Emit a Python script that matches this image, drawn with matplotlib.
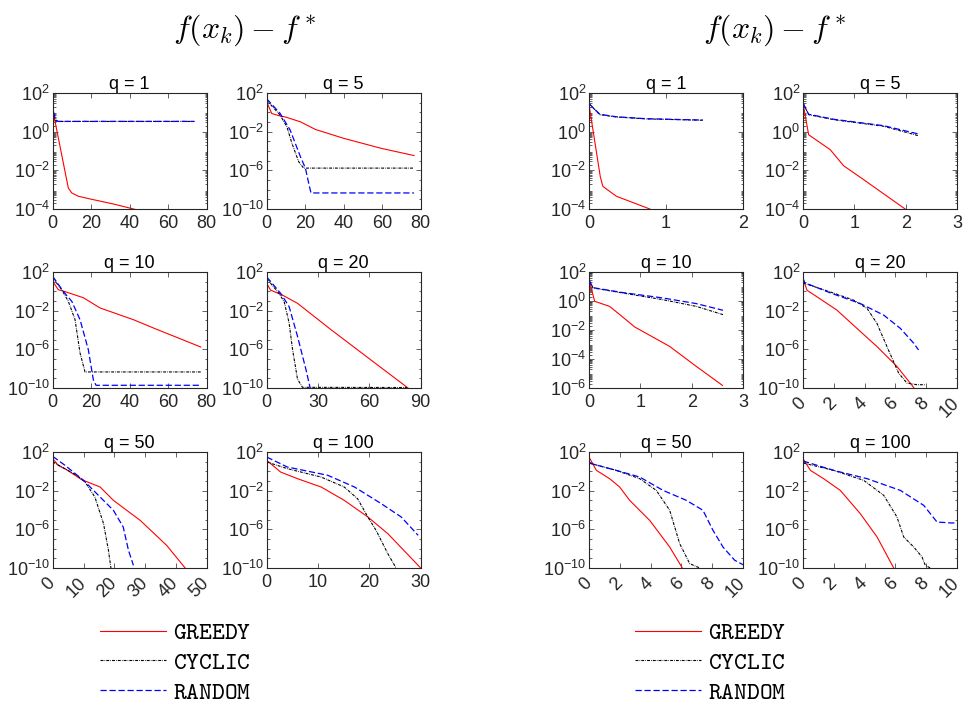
import matplotlib.pyplot as plt
import numpy as np
from matplotlib.lines import Line2D
from matplotlib.ticker import FixedLocator, FuncFormatter, NullFormatter

plt.rcParams["font.family"] = ["Liberation Sans", "DejaVu Sans"]
plt.rcParams["mathtext.fontset"] = "cm"
plt.rcParams["font.size"] = 10

# (x, log10 of f(x_k) - f*) read per curve; left block is iterations, right block is time
# --- left block ---
greedy_l1 = [(0, 1.14), (8.1, -2.91), (9.9, -3.17), (13.3, -3.34), (19.4, -3.48), (31.5, -3.74), (44, -4.05)]
cyclic_l1 = [(0, 0.85), (1.5, 0.55), (3, 0.53), (73.6, 0.53)]
random_l1 = [(0, 1.5), (0.5, 1.0), (1.5, 0.6), (3, 0.53), (73.6, 0.53)]

greedy_l5 = [(0, 1.08), (2.6, -0.12), (6.1, -0.33), (10, -0.5), (17.5, -0.98), (25.3, -1.77),
             (40, -2.69), (59.4, -3.72), (76.5, -4.47)]
cyclic_l5 = [(0, 1.25), (7, -0.3), (10.5, -1.5), (13.1, -3.2), (16.6, -5.1), (19.2, -5.77), (76.5, -5.77)]
random_l5 = [(0, 1.4), (7, -0.12), (12.2, -1.84), (17.5, -4.58), (20.1, -5.77), (22, -7.5), (23, -8.34),
             (76.5, -8.34)]

greedy_l10 = [(0, 1.03), (2.9, 0.17), (6.4, -0.03), (15.9, -0.66), (24.6, -1.72), (41.9, -2.93),
              (52.3, -3.79), (76.9, -5.76)]
cyclic_l10 = [(0, 1.38), (4.7, 0.17), (8.1, -1.03), (11.6, -2.93), (14.2, -6.38), (16.8, -8.34), (76.9, -8.34)]
random_l10 = [(0, 1.55), (5.5, 0.0), (9.9, -1.03), (14.2, -2.93), (18.5, -6.03), (21.1, -9.14), (22.5, -9.72),
              (76.9, -9.72)]

greedy_l20 = [(0, 0.81), (2.3, 0.12), (9.2, -0.39), (18, -1.24), (37.6, -3.97), (63, -7.38), (82.6, -10)]
cyclic_l20 = [(0, 1.32), (7.2, -0.22), (10.2, -1.07), (13.1, -3.28), (15.1, -6.01), (18, -9.08), (20.9, -9.93),
              (82, -9.95)]
random_l20 = [(0, 1.49), (8.2, -0.22), (13.1, -1.58), (18, -4.65), (22.9, -8.06), (25.4, -10)]

greedy_l50 = [(0, 1.31), (1.8, 0.62), (4.5, 0.17), (9.4, -0.86), (15.4, -1.62), (19.7, -3), (28.4, -5.07),
              (37, -7.66), (43, -10)]
cyclic_l50 = [(0, 0.97), (7.8, -0.41), (10.5, -1.1), (13.7, -2.66), (16.5, -5.41), (18.1, -8.17), (18.9, -10)]
random_l50 = [(0, 1.55), (4, 0.62), (10, -0.93), (14.3, -2.31), (19.7, -4.03), (22.9, -5.76), (24.6, -8.17),
              (26.2, -9.72)]

greedy_l100 = [(0, 1.14), (2.7, -0.07), (6, -0.76), (10.6, -1.62), (15.1, -3), (19.7, -4.72), (23.6, -6.45),
               (30, -10)]
cyclic_l100 = [(0, 0.97), (4, 0.28), (10.6, -0.59), (15.1, -1.62), (17.7, -2.83), (19.7, -4.72), (21.3, -6.1),
               (23.6, -8.52), (25.2, -10)]
random_l100 = [(0, 1.48), (4, 0.45), (11.9, -0.41), (17.1, -1.62), (22.3, -3.34), (26.2, -4.72), (29.5, -6.62)]

# --- right block ---
greedy_r1 = [(0, 1.4), (0.147, -2.34), (0.18, -2.83), (0.355, -3.34), (0.79, -4)]
cyclic_r1 = [(0, 1.45), (0.14, 0.88), (0.355, 0.76), (0.745, 0.66), (1.48, 0.59)]
random_r1 = [(0, 1.45), (0.14, 0.9), (0.355, 0.77), (0.745, 0.67), (1.48, 0.6)]

greedy_r5 = [(0, 1.48), (0.11, -0.16), (0.53, -0.93), (0.79, -1.76), (1.18, -2.48), (1.99, -4)]
cyclic_r5 = [(0, 1.48), (0.11, 0.88), (0.6, 0.62), (1.57, 0.28), (2.25, -0.21)]
random_r5 = [(0, 1.48), (0.11, 0.9), (0.6, 0.64), (1.57, 0.31), (2.25, -0.12)]

greedy_r10 = [(0, 1.47), (0.11, -0.02), (0.4, -0.37), (0.6, -0.94), (0.89, -1.79), (1.57, -3.13),
              (2.09, -4.51), (2.6, -5.82)]
cyclic_r10 = [(0, 1.43), (0.08, 0.9), (0.66, 0.55), (1.44, 0.09), (2.09, -0.37), (2.61, -0.94)]
random_r10 = [(0, 1.43), (0.08, 0.92), (0.66, 0.58), (1.44, 0.21), (2.09, -0.18), (2.61, -0.64)]

greedy_r20 = [(0, 1.31), (0.26, 0.11), (0.91, -0.57), (2.2, -1.94), (3.5, -3.83), (4.8, -5.71), (6.1, -7.77),
              (7.08, -9.73), (7.2, -10)]
cyclic_r20 = [(0, 0.87), (1.77, -0.06), (3.29, -0.91), (4.16, -1.77), (4.8, -3.31), (5.45, -5.71),
              (6.21, -8.46), (6.75, -9.49), (7.4, -9.66), (7.94, -9.66)]
random_r20 = [(0, 1.4), (0.1, 0.9), (1.77, -0.16), (3.72, -1.26), (5.24, -2.46), (6.32, -3.83), (7.19, -5.37),
              (7.5, -6.06)]

greedy_r50 = [(0, 1.48), (0.48, 0.1), (1.34, -0.76), (1.99, -1.62), (2.64, -3), (3.94, -5.07), (5.24, -7.83),
              (6.06, -10)]
cyclic_r50 = [(0, 0.86), (1.77, 0.1), (3.29, -0.76), (4.37, -1.97), (5.24, -4.03), (5.89, -7.48),
              (6.54, -9.55), (7.19, -10)]
random_r50 = [(0, 0.86), (1.77, 0.1), (3.29, -0.59), (4.81, -1.97), (6.32, -3), (7.4, -4.03), (8.05, -6.1),
              (8.7, -7.83), (9.46, -9.2), (10, -9.66)]

greedy_r100 = [(0, 1.31), (0.48, 0.1), (1.34, -0.76), (2.42, -1.97), (3.72, -4.38), (4.81, -6.79), (5.89, -10)]
cyclic_r100 = [(0, 0.86), (1.99, 0.1), (3.94, -0.93), (5.24, -2.48), (6.1, -4.72), (6.54, -6.79),
               (7.19, -7.83), (7.73, -8.86), (7.94, -9.72), (8.27, -10)]
random_r100 = [(0, 1.07), (1.99, 0.1), (4.16, -0.76), (6.32, -1.97), (7.84, -3.52), (8.7, -5.24),
               (9.57, -5.34), (10, -5.34)]

q_values = [1, 5, 10, 20, 50, 100]
method_names = ["GREEDY", "CYCLIC", "RANDOM"]

# per panel: curves, x limit, x ticks, lowest decade, y ticks (decades), rotated x labels
left_panels = [
    ((greedy_l1, cyclic_l1, random_l1), 80, [0, 20, 40, 60, 80], -4, [2, 0, -2, -4], False),
    ((greedy_l5, cyclic_l5, random_l5), 80, [0, 20, 40, 60, 80], -10, [2, -2, -6, -10], False),
    ((greedy_l10, cyclic_l10, random_l10), 80, [0, 20, 40, 60, 80], -10, [2, -2, -6, -10], False),
    ((greedy_l20, cyclic_l20, random_l20), 90, [0, 30, 60, 90], -10, [2, -2, -6, -10], False),
    ((greedy_l50, cyclic_l50, random_l50), 50, [0, 10, 20, 30, 40, 50], -10, [2, -2, -6, -10], True),
    ((greedy_l100, cyclic_l100, random_l100), 30, [0, 10, 20, 30], -10, [2, -2, -6, -10], False),
]
right_panels = [
    ((greedy_r1, cyclic_r1, random_r1), 2, [0, 1, 2], -4, [2, 0, -2, -4], False),
    ((greedy_r5, cyclic_r5, random_r5), 3, [0, 1, 2, 3], -4, [2, 0, -2, -4], False),
    ((greedy_r10, cyclic_r10, random_r10), 3, [0, 1, 2, 3], -6, [2, 0, -2, -4, -6], False),
    ((greedy_r20, cyclic_r20, random_r20), 10, [0, 2, 4, 6, 8, 10], -10, [2, -2, -6, -10], True),
    ((greedy_r50, cyclic_r50, random_r50), 10, [0, 2, 4, 6, 8, 10], -10, [2, -2, -6, -10], True),
    ((greedy_r100, cyclic_r100, random_r100), 10, [0, 2, 4, 6, 8, 10], -10, [2, -2, -6, -10], True),
]

styles = [
    dict(color="red", linestyle="-", linewidth=0.8),
    dict(color="black", linestyle=(0, (2.6, 1.0, 0.6, 1.0)), linewidth=0.8),
    dict(color="blue", linestyle=(0, (5, 2.2)), linewidth=0.9),
]

axis_grey = "#262626"
W, H = 969, 704
col_left = [52.7, 266.7, 589, 803]
col_width = 154
row_top = [93, 272, 452]
row_height = 116


def decade_label(v, pos):
    return r"$\mathdefault{10^{%d}}$" % int(round(np.log10(v)))


def draw_panel(ax, q, spec):
    curves, xmax, xticks, ylow, yticks, rotate = spec
    for pts, st in zip(curves, styles):
        xs = [p[0] for p in pts]
        ys = np.power(10.0, [p[1] for p in pts])
        ax.plot(xs, ys, **st)
    ax.set_yscale("log")
    ax.set_xlim(0, xmax)
    ax.set_ylim(10.0 ** ylow, 1e2)
    ax.yaxis.set_major_locator(FixedLocator([10.0 ** d for d in yticks]))
    ax.yaxis.set_major_formatter(FuncFormatter(decade_label))
    if ylow >= -6:
        minors = [m * 10.0 ** d for d in range(ylow, 2) for m in range(2, 10)]
    else:
        minors = [10.0 ** d for d in range(ylow, 3)]
    ax.yaxis.set_minor_locator(FixedLocator(minors))
    ax.yaxis.set_minor_formatter(NullFormatter())
    ax.set_xticks(xticks)
    if rotate:
        ax.set_xticklabels([str(t) for t in xticks], rotation=45, ha="right", va="center",
                           rotation_mode="anchor")
        ax.tick_params(axis="x", pad=9)
    else:
        ax.set_xticklabels([str(t) for t in xticks])
        ax.tick_params(axis="x", pad=4)
    ax.tick_params(which="both", direction="in", top=True, right=True, colors=axis_grey,
                   labelsize=13, width=0.5)
    ax.tick_params(which="major", length=3.5)
    ax.tick_params(which="minor", length=1.8)
    ax.tick_params(axis="y", pad=2)
    for sp in ax.spines.values():
        sp.set_color(axis_grey)
        sp.set_linewidth(0.8)
    ax.set_title(f"q = {q}", fontsize=13, pad=3, color="black")


fig = plt.figure(figsize=(W / 100, H / 100), dpi=100)

for block, panels in enumerate([left_panels, right_panels]):
    for i, (q, spec) in enumerate(zip(q_values, panels)):
        r, c = divmod(i, 2)
        x0 = col_left[2 * block + c]
        y0 = row_top[r]
        ax = fig.add_axes([x0 / W, 1 - (y0 + row_height) / H, col_width / W, row_height / H])
        draw_panel(ax, q, spec)

for cx in [245, 775]:
    fig.text(cx / W, 1 - 30 / H, r"$f(x_k) - f^*$", fontsize=23, ha="center", va="center")

handles = [Line2D([], [], **st) for st in styles]
labels = [r"$\mathtt{%s}$" % name for name in method_names]
for lx in [100, 635]:
    fig.legend(handles, labels, loc="upper left", bbox_to_anchor=(lx / W, 1 - 622 / H),
               frameon=False, fontsize=17.5, handlelength=2.7, handletextpad=0.3,
               labelspacing=0.32, borderpad=0, borderaxespad=0)

fig.savefig("out.png", dpi=100, facecolor="white")
